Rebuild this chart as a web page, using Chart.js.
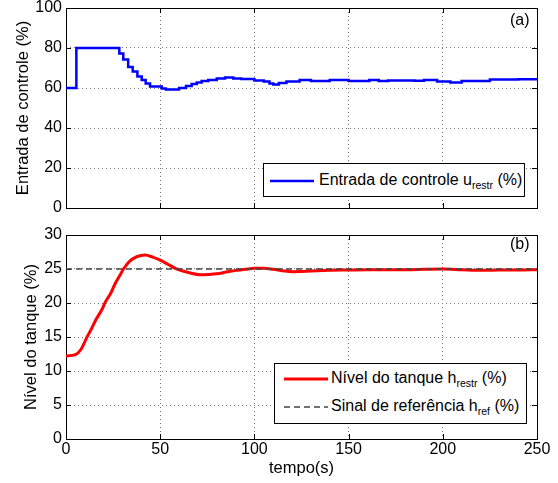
<!DOCTYPE html>
<html><head><meta charset="utf-8">
<script src="https://cdn.jsdelivr.net/npm/chart.js@4/dist/chart.umd.min.js"></script>
<style>
body{margin:0;background:#fff;width:558px;height:483px;overflow:hidden;position:relative;font-family:"Liberation Sans",Arial,sans-serif;color:#000}
canvas{position:absolute;left:0}
.leg{position:absolute;background:#fff;border:1px solid #000;box-sizing:border-box;font-size:16px;white-space:nowrap}
.leg .t{position:absolute;line-height:20px}
.leg svg{position:absolute}
sub{font-size:10.5px;vertical-align:-4px;line-height:0}
.lab{position:absolute;font-size:16px;line-height:20px}
</style></head><body>
<canvas id="c1" width="558" height="220" style="top:0"></canvas>
<canvas id="c2" width="558" height="263" style="top:220px"></canvas>
<div class="lab" style="left:510px;top:10px">(a)</div>
<div class="lab" style="left:510px;top:234px">(b)</div>
<div class="leg" style="left:263px;top:163px;width:262px;height:34px">
  <svg style="left:6px;top:15px" width="44" height="4"><line x1="0" y1="2" x2="44" y2="2" stroke="#0000ff" stroke-width="2.5"/></svg>
  <div class="t" style="left:55px;top:6px">Entrada de controle u<sub>restr</sub> (%)</div>
</div>
<div class="leg" style="left:274px;top:363px;width:253px;height:61px">
  <svg style="left:9px;top:13px" width="44" height="4"><line x1="0" y1="2" x2="44" y2="2" stroke="#ff0000" stroke-width="3"/></svg>
  <div class="t" style="left:56px;top:4px">Nível do tanque h<sub>restr</sub> (%)</div>
  <svg style="left:9px;top:41px" width="44" height="4"><line x1="0" y1="2" x2="44" y2="2" stroke="#444" stroke-width="1.3" stroke-dasharray="6,4"/></svg>
  <div class="t" style="left:56px;top:32px">Sinal de referência h<sub>ref</sub> (%)</div>
</div>
<script>
// ---- data ----
const xTicks = [0, 50, 100, 150, 200, 250];
const controlTicks = [0, 20, 40, 60, 80, 100];
const levelTicks = [0, 5, 10, 15, 20, 25, 30];

const controlTime = [0,5.5,28.3,30.4,33,35.4,37.9,40.2,42.3,44.6,50.8,53,60,63.7,66.7,69.4,72,75.5,80,84.4,88.8,93,98,100,105,108,110,113,117,124,130,140,150,156,161,166,171,180,185,190,197,204,210,220,225,231,240,250];
const controlValue = [60,80,77.3,74.3,70.5,68.2,65.8,64,62.3,60.7,59.7,59.3,60,61,62,62.7,63.5,64,64.8,65.3,64.8,64.5,64.5,63.8,63.2,62.3,61.8,62.5,63.2,64,63.5,64,63.5,63.5,64,63.5,63.8,63.8,63.6,64,63.3,62.8,63.5,63.5,64.3,64.2,64.4,64.5];

const levelTime = [0,5,8,11,13.5,16,19,21,23.5,26,28.5,30.5,34,37.5,42,46,50,54,58,62,66,71,76,80,85,90,95,100,105,110,115,120,125,130,140,150,160,170,180,190,200,210,220,230,240,250];
const levelValue = [12.2,12.4,13.2,14.9,16.2,17.6,19,20.2,21.3,22.8,24,25,26.2,26.8,27.05,26.75,26.3,25.7,25.1,24.7,24.4,24.15,24.2,24.3,24.55,24.8,24.95,25.1,25.1,24.95,24.75,24.6,24.65,24.7,24.8,24.85,24.9,24.9,24.9,24.95,25,24.9,24.8,24.85,24.85,24.9];

const refTime = [0, 250];
const refValue = [25, 25];

const FONT = '"Liberation Sans", Arial, sans-serif';
const pts = (xs, ys) => xs.map((x, i) => ({x, y: ys[i]}));

// box + inward ticks
const boxPlugin = {
  id: 'box',
  beforeDatasetsDraw(chart) {
    const {ctx, chartArea: a, scales} = chart;
    ctx.save();
    ctx.strokeStyle = '#000';
    ctx.lineWidth = 1;
    ctx.beginPath();
    const L = 5;
    scales.x.ticks.forEach(t => {
      const px = Math.round(scales.x.getPixelForValue(t.value)) + 0.5;
      ctx.moveTo(px, a.bottom); ctx.lineTo(px, a.bottom - L);
      ctx.moveTo(px, a.top); ctx.lineTo(px, a.top + L);
    });
    scales.y.ticks.forEach(t => {
      const py = Math.round(scales.y.getPixelForValue(t.value)) + 0.5;
      ctx.moveTo(a.left, py); ctx.lineTo(a.left + L, py);
      ctx.moveTo(a.right, py); ctx.lineTo(a.right - L, py);
    });
    ctx.stroke();
    ctx.strokeRect(Math.round(a.left) + 0.5, Math.round(a.top) + 0.5, Math.round(a.right - a.left), Math.round(a.bottom - a.top));
    ctx.restore();
  }
};

function scaleX(showLabels, h) {
  return {
    type: 'linear', min: 0, max: 250,
    afterBuildTicks: s => { s.ticks = xTicks.map(v => ({value: v})); },
    ticks: {display: showLabels, color: '#000', padding: 1, font: {family: FONT, size: 16}, maxRotation: 0},
    grid: {color: '#777', lineWidth: 1, drawTicks: false},
    border: {display: false, dash: [1, 3]},
    title: showLabels ? {display: true, text: 'tempo(s)', color: '#000', font: {family: FONT, size: 16.5}, padding: {top: 0, bottom: 5}} : {display: false},
    afterFit: s => { s.height = h; s.paddingLeft = 0; s.paddingRight = 0; }
  };
}
function scaleY(min, max, ticks, title, tpad) {
  return {
    min, max,
    afterBuildTicks: s => { s.ticks = ticks.map(v => ({value: v})); },
    ticks: {color: '#000', padding: 4, font: {family: FONT, size: 16}},
    grid: {color: '#777', lineWidth: 1, drawTicks: false},
    border: {display: false, dash: [1, 3]},
    title: {display: true, text: title, color: '#000', font: {family: FONT, size: 16.5}, padding: {top: tpad, bottom: 0}},
    afterFit: s => { s.width = 66; s.paddingTop = 0; s.paddingBottom = 0; }
  };
}
function baseOpts(padTop, padBottom) {
  return {
    responsive: false, animation: false, devicePixelRatio: 1,
    layout: {padding: {left: 0, right: 21, top: padTop, bottom: padBottom}},
    plugins: {legend: {display: false}, tooltip: {enabled: false}},
    elements: {point: {radius: 0}}
  };
}

const o1 = baseOpts(8, 12);
o1.scales = {x: scaleX(false, 0), y: scaleY(0, 100, controlTicks, 'Entrada de controle (%)', 14)};
new Chart(document.getElementById('c1'), {
  type: 'line',
  data: {datasets: [{
    label: 'Entrada de controle u_restr (%)',
    data: pts(controlTime, controlValue),
    borderColor: '#0000ff', borderWidth: 2.5, stepped: true, fill: false
  }]},
  options: o1,
  plugins: [boxPlugin]
});

const o2 = baseOpts(15, 0);
o2.scales = {x: scaleX(true, 44), y: scaleY(0, 30, levelTicks, 'Nível do tanque (%)', 22)};
new Chart(document.getElementById('c2'), {
  type: 'line',
  data: {datasets: [
    {label: 'Sinal de referência h_ref (%)', data: pts(refTime, refValue), borderColor: '#444', borderWidth: 1.3, borderDash: [6, 4], fill: false, order: 0},
    {label: 'Nível do tanque h_restr (%)', data: pts(levelTime, levelValue), borderColor: '#ff0000', borderWidth: 3, cubicInterpolationMode: 'monotone', fill: false, order: 1}
  ]},
  options: o2,
  plugins: [boxPlugin]
});
</script>
</body></html>
